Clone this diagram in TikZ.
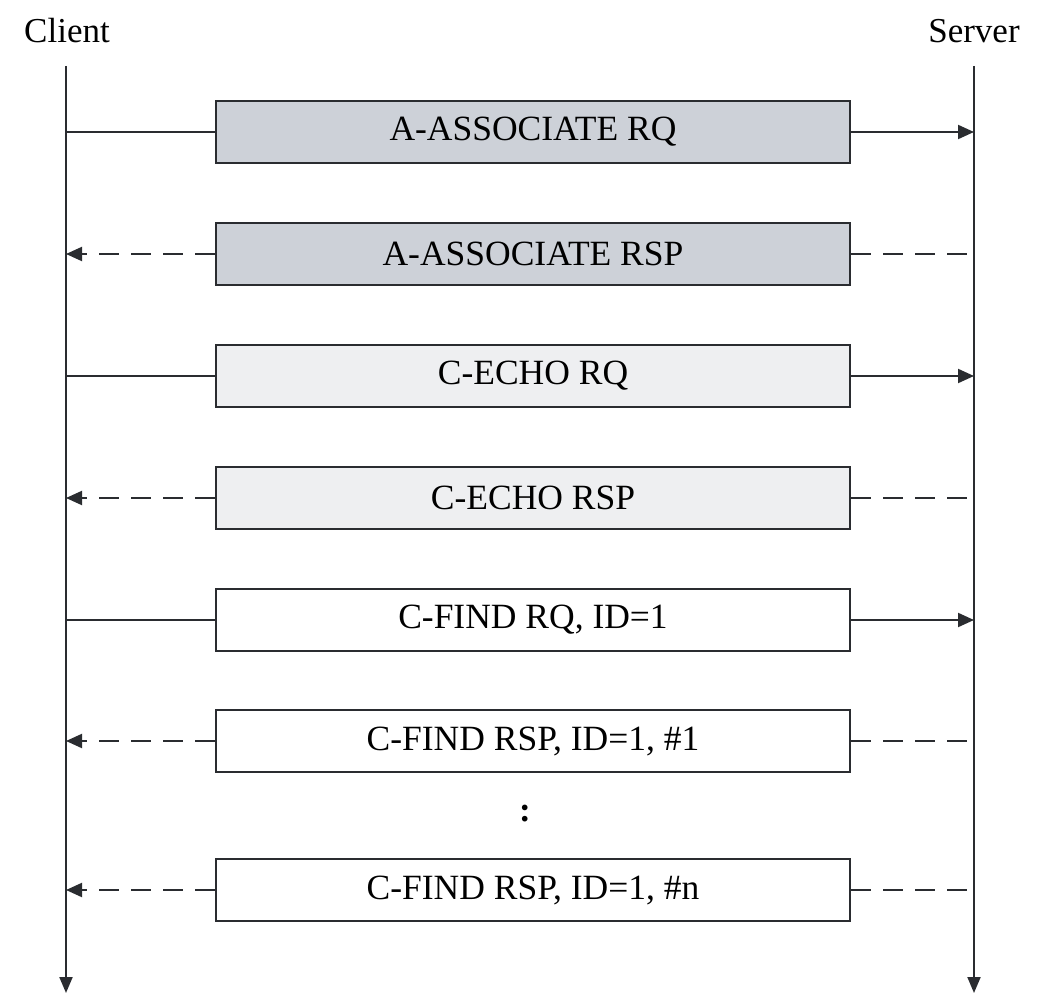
\documentclass[tikz,border=0pt]{standalone}
\usepackage{fontspec}
\setmainfont{Liberation Serif}
\usetikzlibrary{arrows.meta}
\definecolor{ln}{HTML}{2A2C30}
\definecolor{gA}{HTML}{CDD1D8}
\definecolor{gB}{HTML}{EEEFF1}
\begin{document}
\begin{tikzpicture}[x=1pt,y=-1pt,
  msg/.style={draw=ln, line width=2.8pt, minimum width=634pt, minimum height=62pt, inner sep=0pt, font=\fontsize{35.5}{42}\selectfont, text=black},
  life/.style={draw=ln, line width=2pt, -{Triangle[length=16pt,width=13pt]}},
  req/.style={draw=ln, line width=2pt},
  reqa/.style={draw=ln, line width=2pt, -{Triangle[length=16pt,width=14pt]}},
  rsp/.style={draw=ln, line width=2pt, dash pattern=on 20pt off 12pt},
  rspa/.style={draw=ln, line width=2pt, dash pattern=on 20pt off 12pt, -{Triangle[length=16pt,width=14pt]}},
  lbl/.style={font=\fontsize{35}{42}\selectfont}]
\useasboundingbox (0,0) rectangle (1055,1008);
\node[lbl] (client) at (67,31) {Client};
\node[lbl] (server) at (974,31) {Server};
\coordinate (c0) at (66,66);
\coordinate (c1) at (66,993);
\coordinate (s0) at (974,66);
\coordinate (s1) at (974,993);
\draw[life] (c0) -- (c1);
\draw[life] (s0) -- (s1);
\node[msg, fill=gA] (m1) at (533,132) {A-ASSOCIATE RQ};
\node[msg, fill=gA] (m2) at (533,254) {A-ASSOCIATE RSP};
\node[msg, fill=gB] (m3) at (533,376) {C-ECHO RQ};
\node[msg, fill=gB] (m4) at (533,498) {C-ECHO RSP};
\node[msg, fill=white] (m5) at (533,620) {C-FIND RQ, ID=1};
\node[msg, fill=white] (m6) at (533,741) {C-FIND RSP, ID=1, \#1};
\node[lbl] (dots) at (525,814) {\textbf{:}};
\node[msg, fill=white] (m7) at (533,890) {C-FIND RSP, ID=1, \#n};
\foreach \m in {m1,m3,m5}{
  \draw[req] (\m.west -| c0) -- (\m.west);
  \draw[reqa] (\m.east) -- (\m.east -| s0);
}
\foreach \m in {m2,m4,m6,m7}{
  \draw[rspa] (\m.west) -- (\m.west -| c0);
  \draw[rsp] (\m.east) -- (\m.east -| s0);
}
\end{tikzpicture}
\end{document}
